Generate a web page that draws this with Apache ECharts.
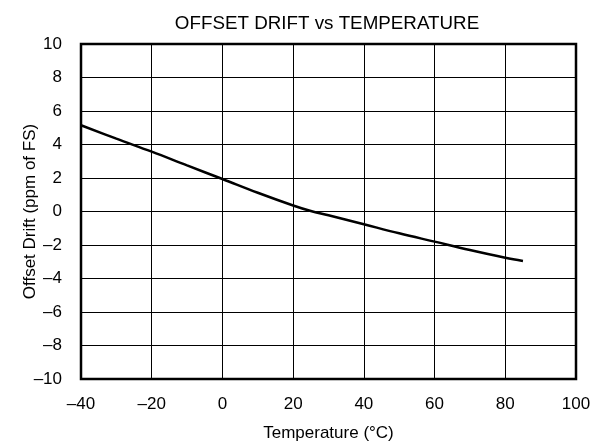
<!DOCTYPE html>
<html>
<head>
<meta charset="utf-8">
<script src="https://cdn.jsdelivr.net/npm/echarts@6/dist/echarts.min.js"></script>
<style>html,body{margin:0;padding:0;background:#fff}#c{width:594px;height:443px}</style>
</head>
<body>
<div id="c"></div>
<script>
var temperatures = [-40, -30, -20, -10, 0, 10, 20, 25, 30, 40, 50, 60, 70, 80, 85];
var offsetDrift = [5.15, 4.35, 3.57, 2.75, 1.94, 1.12, 0.36, 0.03, -0.22, -0.76, -1.3, -1.8, -2.3, -2.76, -2.95];
var titleText = 'OFFSET DRIFT vs TEMPERATURE';
var xName = 'Temperature (\u00B0C)';
var yName = 'Offset Drift (ppm of FS)';

var font = 'Liberation Sans, Arial, Helvetica, sans-serif';
function fmt(v){ return String(v).replace('-', '\u2013'); }

var chart = echarts.init(document.getElementById('c'), null, {renderer:'canvas'});
chart.setOption({
  animation: false,
  backgroundColor: '#fff',
  title: {
    text: titleText, left: 322, top: 9, textAlign: 'center',
    textStyle: {fontFamily: font, fontSize: 18.8, fontWeight: 'normal', color: '#000'}
  },
  grid: {left: 81, right: 18, top: 44, bottom: 64, show: true, borderColor: '#000', borderWidth: 2.5, containLabel: false, outerBoundsMode: 'none'},
  xAxis: {
    type: 'value', min: -40, max: 100, interval: 20,
    name: xName, nameLocation: 'middle', nameGap: 46, nameMoveOverlap: false,
    nameTextStyle: {fontFamily: font, fontSize: 17, color: '#000'},
    axisLine: {show: false}, axisTick: {show: false},
    axisLabel: {fontFamily: font, fontSize: 17, color: '#000', margin: 17, formatter: fmt},
    splitLine: {show: true, lineStyle: {color: '#000', width: 1}}
  },
  yAxis: {
    type: 'value', min: -10, max: 10, interval: 2,
    name: yName, nameLocation: 'middle', nameGap: 42, nameMoveOverlap: false,
    nameTextStyle: {fontFamily: font, fontSize: 17, color: '#000'},
    axisLine: {show: false}, axisTick: {show: false},
    axisLabel: {fontFamily: font, fontSize: 17, color: '#000', margin: 19, formatter: fmt},
    splitLine: {show: true, lineStyle: {color: '#000', width: 1}}
  },
  series: [{
    type: 'line', data: temperatures.map(function(t,i){return [t, offsetDrift[i]];}),
    smooth: 0.4, showSymbol: false, lineStyle: {color: '#000', width: 2.5}
  }]
});
</script>
</body>
</html>
